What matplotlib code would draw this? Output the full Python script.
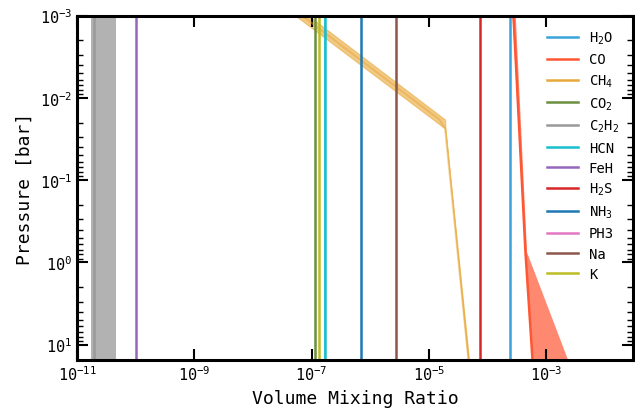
import matplotlib
matplotlib.use('Agg')
import matplotlib.pyplot as plt
import numpy as np

plt.rcParams.update({
    'font.family': 'DejaVu Sans Mono',
    'mathtext.fontset': 'custom',
    'mathtext.rm': 'DejaVu Sans Mono',
    'mathtext.it': 'DejaVu Sans Mono',
    'mathtext.default': 'regular',
    'axes.linewidth': 2.2,
})

# ── Data ─────────────────────────────────────────────────────────────
species = ['H$_2$O', 'CO', 'CH$_4$', 'CO$_2$', 'C$_2$H$_2$', 'HCN',
           'FeH', 'H$_2$S', 'NH$_3$', 'PH3', 'Na', 'K']
colors = ['#3ba3db', '#ff5733', '#e8a838', '#6b8f3e', '#999999', '#17becf',
          '#9467bd', '#d62728', '#1f77b4', '#e377c2', '#8c564b', '#bcbd22']

# pressure grid for the isobaric (constant) species [bar]
p_const = [1e-3, 15.2]
# constant volume mixing ratios
const_med = {'H$_2$O': 2.42e-4, 'CO$_2$': 1.14e-7, 'C$_2$H$_2$': 1.95e-11,
             'HCN': 1.66e-7, 'FeH': 1.0e-10, 'H$_2$S': 7.45e-5,
             'NH$_3$': 6.93e-7, 'PH3': 1e-12, 'Na': 2.78e-6, 'K': 1.33e-7}
c2h2_lo, c2h2_hi = 1.73e-11, 4.57e-11
hcn_lo, hcn_hi = 1.60e-7, 1.73e-7

# CO profile
p_co = [1e-3, 0.75, 15.2]
co_med = [2.75e-4, 4.4e-4, 5.8e-4]
co_lo = [2.6e-4, 4.3e-4, 5.7e-4]
co_hi = [2.95e-4, 4.6e-4, 2.3e-3]

# CH4 profile
p_ch4 = [1e-3, 0.0184, 0.0237, 15.2]
ch4_med = [6.8e-8, 1.5e-5, 1.88e-5, 4.7e-5]
ch4_lo = [5.25e-8, 1.18e-5, 1.88e-5, 4.6e-5]
ch4_hi = [8.75e-8, 1.88e-5, 1.90e-5, 4.8e-5]

fig = plt.figure(figsize=(6.35, 4.1), dpi=100)
ax = fig.add_axes([0.1213, 0.1207, 0.8756, 0.839])

for name, col in zip(species, colors):
    if name == 'CO':
        ax.fill_betweenx(p_co, co_lo, co_hi, color=col, alpha=0.7, lw=0)
        ax.plot(co_med, p_co, color=col, lw=1.8, label=name)
    elif name == 'CH$_4$':
        ax.fill_betweenx(p_ch4, ch4_lo, ch4_hi, color=col, alpha=0.6,
                         lw=0.8, edgecolor=col)
        ax.plot(ch4_med, p_ch4, color=col, lw=1.5, alpha=0.5)
        ax.plot([], [], color=col, lw=1.8, label=name)
    else:
        v = const_med[name]
        if name == 'C$_2$H$_2$':
            ax.fill_betweenx(p_const, [c2h2_lo] * 2, [c2h2_hi] * 2,
                             color=col, alpha=0.75, lw=0)
        elif name == 'HCN':
            ax.fill_betweenx(p_const, [hcn_lo] * 2, [hcn_hi] * 2,
                             color=col, alpha=0.7, lw=0)
        ax.plot([v, v], p_const, color=col, lw=1.8, label=name)

ax.set_xscale('log')
ax.set_yscale('log')
ax.set_xlim(1e-11, 3.0e-2)
ax.set_ylim(15.2, 1e-3)

ax.tick_params(which='both', direction='in', top=True, right=True,
               labelsize=11)
ax.tick_params(which='major', length=8, width=1.5)
ax.tick_params(which='minor', length=4, width=1.0)

ax.set_xlabel('Volume Mixing Ratio', fontsize=13)
ax.set_ylabel('Pressure [bar]', fontsize=13)

ax.legend(loc='upper right', frameon=False, fontsize=10,
          handlelength=2.2, handletextpad=0.8, labelspacing=0.45,
          bbox_to_anchor=(0.997, 0.995))

fig.savefig('out.png', dpi=100, facecolor='white')
